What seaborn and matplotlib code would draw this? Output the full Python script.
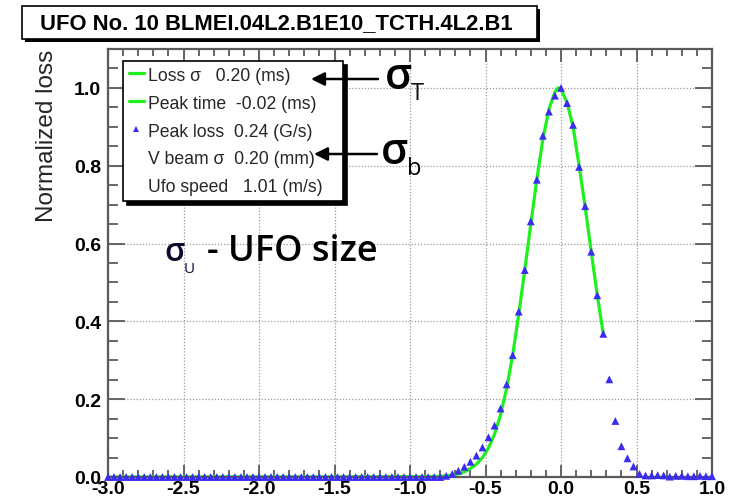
import numpy as np
import pandas as pd
import seaborn as sns
import matplotlib
matplotlib.use("Agg")
import matplotlib.pyplot as plt
from matplotlib.lines import Line2D
from matplotlib.patches import Rectangle
from matplotlib.ticker import MultipleLocator, FormatStrFormatter
from matplotlib import patheffects as pe

# ---- data -------------------------------------------------------------
# BLM samples, one every 0.04 ms from -3.0 ms to 1.0 ms (normalised loss)
sample_time = np.round(np.arange(-3.0, 1.0001, 0.04), 2)
sample_loss = [
    0.0, 0.0, 0.0, 0.0, 0.0, 0.0, 0.0, 0.0, 0.0, 0.0,
    0.0, 0.0, 0.0, 0.0, 0.0, 0.0, 0.0, 0.0, 0.0, 0.0,
    0.0, 0.0, 0.0, 0.0, 0.0, 0.0, 0.0, 0.0, 0.0, 0.0,
    0.0, 0.0, 0.0, 0.0, 0.0, 0.0, 0.0, 0.0, 0.0, 0.0,
    0.0, 0.0, 0.0, 0.0, 0.0, 0.0, 0.0, 0.0, 0.0, 0.0,
    0.0, 0.0, 0.0, 0.0, 0.0, 0.0,
    0.003, 0.008, 0.016, 0.026, 0.039, 0.055, 0.076, 0.102, 0.132, 0.176,
    0.238, 0.313, 0.425, 0.532, 0.657, 0.764, 0.877, 0.939, 0.980, 1.000,
    0.961, 0.905, 0.797, 0.696, 0.579, 0.467, 0.368, 0.251, 0.144, 0.079,
    0.048, 0.027, 0.008, 0.004, 0.004, 0.005, 0.004, 0.001, 0.003, 0.003,
    0.002, 0.002, 0.003, 0.002, 0.002,
]

# Gaussian fit to the rising edge (ms, normalised loss)
fit_time = [-3.0, -0.84, -0.80, -0.76, -0.72, -0.68, -0.64, -0.60, -0.56, -0.52,
            -0.48, -0.44, -0.40, -0.36, -0.32, -0.28, -0.24, -0.20, -0.16, -0.12,
            -0.08, -0.04, -0.02, 0.00, 0.04, 0.08, 0.12, 0.16, 0.20, 0.24, 0.28]
fit_loss = [0.0, 0.001, 0.002, 0.003, 0.005, 0.008, 0.013, 0.022, 0.033, 0.050,
            0.075, 0.110, 0.160, 0.228, 0.313, 0.418, 0.532, 0.650, 0.765, 0.868,
            0.945, 0.990, 1.000, 0.997, 0.962, 0.900, 0.800, 0.694, 0.580, 0.468, 0.368]

legend_labels = [
    "Loss \u03c3   0.20 (ms)",
    "Peak time  -0.02 (ms)",
    "Peak loss  0.24 (G/s)",
    "V beam \u03c3  0.20 (mm)",
    "Ufo speed   1.01 (m/s)",
]
title_text = "UFO No. 10 BLMEI.04L2.B1E10_TCTH.4L2.B1"
x_ticks = [-3.0, -2.5, -2.0, -1.5, -1.0, -0.5, 0.0, 0.5, 1.0]
y_ticks = [0.0, 0.2, 0.4, 0.6, 0.8, 1.0]

samples = pd.DataFrame({"time": sample_time, "loss": sample_loss})
fit = pd.DataFrame({"time": fit_time, "loss": fit_loss})

# ---- style ------------------------------------------------------------
sns.set_theme(style="ticks")
plt.rcParams["font.family"] = ["Liberation Sans", "DejaVu Sans"]
plt.rcParams["axes.unicode_minus"] = False

W, H = 734, 502
fig = plt.figure(figsize=(W / 100, H / 100), dpi=100)
fig.patch.set_facecolor("white")


def fx(px):
    return px / W


def fy(py):
    return 1 - py / H


ax = fig.add_axes([fx(108), fy(478), (712 - 108) / W, (478 - 50) / H])
ax.set_facecolor("white")

GREEN = "#1ef01e"
BLUE = "#3b2cf2"

sns.lineplot(data=fit, x="time", y="loss", color=GREEN, lw=2.3, ax=ax,
             zorder=2, sort=True, estimator=None)
sns.scatterplot(data=samples, x="time", y="loss", marker="^", color=BLUE,
                s=32, edgecolor="none", linewidth=0, ax=ax, zorder=3,
                clip_on=False)

ax.set_xlim(-3.0, 1.0)
ax.set_ylim(0.0, 1.1)
ax.set_xticks(x_ticks)
ax.set_yticks(y_ticks)
ax.xaxis.set_minor_locator(MultipleLocator(0.1))
ax.yaxis.set_minor_locator(MultipleLocator(0.05))
ax.xaxis.set_major_formatter(FormatStrFormatter("%.1f"))
ax.yaxis.set_major_formatter(FormatStrFormatter("%.1f"))

FRAME = "#5a5a5a"
for sp in ax.spines.values():
    sp.set_color(FRAME)
    sp.set_linewidth(1.6)

ax.tick_params(axis="both", which="both", direction="in", top=True,
               right=True, color=FRAME, width=1.3, labelcolor="black")
ax.tick_params(axis="x", which="major", length=9, pad=2.5)
ax.tick_params(axis="x", which="minor", length=5)
ax.tick_params(axis="y", which="major", length=12, pad=5)
ax.tick_params(axis="y", which="minor", length=7)
for lab in ax.get_xticklabels() + ax.get_yticklabels():
    lab.set_fontweight("bold")
    lab.set_fontsize(14)

ax.grid(True, which="major", linestyle=(0, (1, 1.5)), color="#9a9a9a",
        linewidth=0.9)
ax.set_axisbelow(True)
ax.set_xlabel("")
ax.set_ylabel("Normalized loss", fontsize=17.5, loc="top")
ax.yaxis.label.set_verticalalignment("baseline")
ax.yaxis.set_label_coords((53 - 108) / (712 - 108), 1.0)

# ---- legend box with statistics --------------------------------------
handles = [
    Line2D([], [], color=GREEN, lw=2.3),
    Line2D([], [], color=GREEN, lw=2.3),
    Line2D([], [], color=BLUE, marker="^", ls="none", markersize=4.5,
           markeredgewidth=0),
    Line2D([], [], color="none"),
    Line2D([], [], color="none"),
]
leg = ax.legend(handles, legend_labels, loc="upper left",
                bbox_to_anchor=(fx(123), fy(200), (343 - 123) / W, (200 - 62) / H),
                bbox_transform=fig.transFigure, mode="expand",
                fontsize=12.7, frameon=True, fancybox=False,
                borderaxespad=0, borderpad=0.32, handlelength=0.85,
                handletextpad=0.25, labelspacing=0.62,
                shadow={"ox": 3, "oy": -3, "facecolor": "black",
                        "edgecolor": "black", "alpha": 1})
frame = leg.get_frame()
frame.set_edgecolor("black")
frame.set_linewidth(1.2)
frame.set_facecolor("white")
frame.set_alpha(1)
leg.set_zorder(5)

# ---- title box ---------------------------------------------------------
title_box = Rectangle((fx(22), fy(40)), (537 - 22) / W, (40 - 7) / H,
                      transform=fig.transFigure, facecolor="white",
                      edgecolor="black", linewidth=1.2, zorder=5)
title_box.set_path_effects([
    pe.SimplePatchShadow(offset=(2.5, -2.5), shadow_rgbFace="black", alpha=1),
    pe.Normal(),
])
fig.add_artist(title_box)
fig.text(fx(276), fy(24), title_text, ha="center", va="center",
         fontsize=15.8, fontweight="bold", color="black", zorder=6)

# ---- annotations ------------------------------------------------------
ANNOT_FONT = ["Open Sans", "DejaVu Sans"]
arrow_kw = dict(arrowstyle="-|>", color="black", lw=1.8, mutation_scale=20,
                shrinkA=0, shrinkB=0)
ax.annotate("", xy=(fx(311), fy(80)), xytext=(fx(378), fy(80)),
            xycoords="figure fraction", textcoords="figure fraction",
            arrowprops=arrow_kw, zorder=7)
ax.annotate("", xy=(fx(314), fy(155)), xytext=(fx(377), fy(155)),
            xycoords="figure fraction", textcoords="figure fraction",
            arrowprops=arrow_kw, zorder=7)

fig.text(fx(385), fy(89), "\u03c3", fontsize=31, family=ANNOT_FONT,
         fontweight="semibold", ha="left", va="baseline", color="black",
         zorder=7)
fig.text(fx(411), fy(100), "T", fontsize=17, family=ANNOT_FONT,
         ha="left", va="baseline", color="#1a1208", zorder=7)
fig.text(fx(381), fy(164), "\u03c3", fontsize=31, family=ANNOT_FONT,
         fontweight="semibold", ha="left", va="baseline", color="black",
         zorder=7)
fig.text(fx(407), fy(175), "b", fontsize=17, family=ANNOT_FONT,
         ha="left", va="baseline", color="black", zorder=7)

fig.text(fx(164), fy(261), "\u03c3", fontsize=23, family=ANNOT_FONT,
         fontweight="semibold", ha="left", va="baseline", color="#0a0a2a",
         zorder=7)
fig.text(fx(184), fy(273), "U", fontsize=11, family=ANNOT_FONT,
         ha="left", va="baseline", color="#0a0a3a", zorder=7)
fig.text(fx(207), fy(261), "- UFO size", fontsize=26, family=ANNOT_FONT,
         fontweight="semibold", ha="left", va="baseline", color="black",
         zorder=7)

fig.savefig("out.png", dpi=100, facecolor="white")
